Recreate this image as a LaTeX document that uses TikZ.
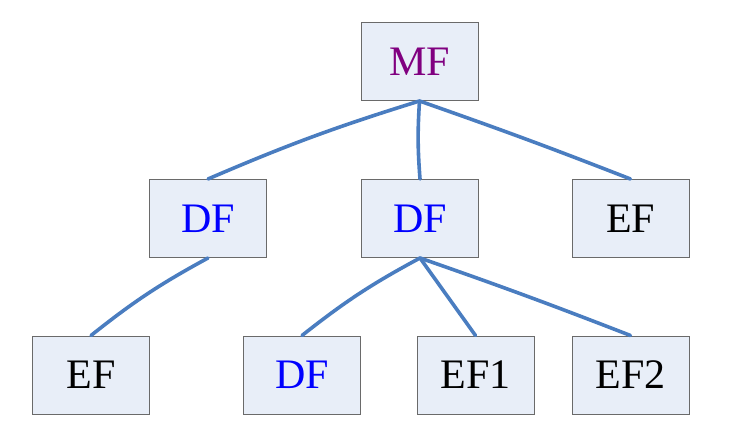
\documentclass[tikz,border=0pt]{standalone}
\usepackage{fontspec}
\setmainfont{Liberation Serif}
\usepackage{xcolor}
\definecolor{boxfill}{HTML}{E8EEF8}
\definecolor{boxline}{HTML}{6A6A6A}
\definecolor{linkblue}{HTML}{4A7DC0}
\definecolor{mfpurple}{HTML}{800080}
\begin{document}
\begin{tikzpicture}[x=1pt,y=-1pt]
	\tikzstyle{box}=[rectangle,draw=boxline,line width=1pt,fill=boxfill,minimum width=117pt,minimum height=78pt,inner sep=0pt,font=\fontsize{42}{50}\selectfont]
	\tikzstyle{link}=[draw=linkblue,line width=3.6pt,line cap=round]
	\useasboundingbox (0,0) rectangle (736,434);
	\node[box,text=mfpurple](mf) at (419.5,61.5){MF};
	\node[box,text=blue](dfa) at (208,218.5){DF};
	\node[box,text=blue](dfb) at (420,218.5){DF};
	\node[box](efa) at (630.5,218.5){EF};
	\node[box](efb) at (91,375){EF};
	\node[box,text=blue](dfc) at (302,375){DF};
	\node[box](efc) at (475.5,375){EF1};
	\node[box](efd) at (630.5,375){EF2};
	\path[link]
		(mf.south) edge[bend right=3] (dfa.north)
		(mf.south) edge[bend right=4] (dfb.north)
		(mf.south) edge[bend left=1] (efa.north)
		(dfa.south) edge[bend right=5] (efb.north)
		(dfb.south) edge[bend right=5] (dfc.north)
		(dfb.south) edge (efc.north)
		(dfb.south) edge[bend left=1] (efd.north);
\end{tikzpicture}
\end{document}
